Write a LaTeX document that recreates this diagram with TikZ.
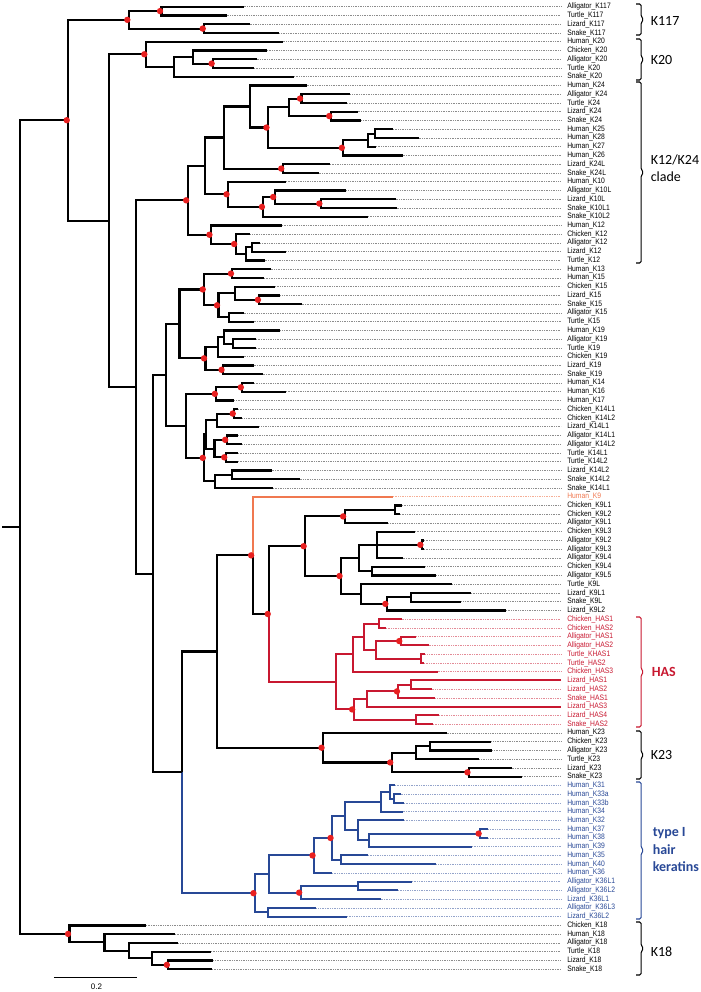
\documentclass[tikz,border=0pt]{standalone}
\usepackage{fontspec}
\setmainfont{Liberation Sans}
\newfontfamily\lblfont[FakeStretch=0.86]{Liberation Sans}
\newfontfamily\brkfont{Carlito}
\usetikzlibrary{calc}
\definecolor{korange}{RGB}{240,120,80}
\definecolor{kred}{RGB}{200,24,48}
\definecolor{kblue}{RGB}{40,72,150}
\definecolor{kdot}{RGB}{232,32,32}
\colorlet{labk}{black}
\colorlet{labo}{korange}
\colorlet{labr}{kred}
\colorlet{labb}{kblue}
\tikzset{
 br/.style={line width=1.6pt, black},
 brr/.style={line width=1.5pt, kred},
 brb/.style={line width=1.5pt, kblue},
 bro/.style={line width=1.4pt, korange},
 lab/.style={anchor=west, inner sep=0pt, font=\lblfont\fontsize{5.9}{6}\selectfont},
 leadbase/.style={line width=0.45pt, dash pattern=on 0.5pt off 0.8pt, shorten >=4.5pt},
 leadk/.style={leadbase, black!45},
 leado/.style={leadbase, korange!60},
 leadr/.style={leadbase, kred!50},
 leadb/.style={leadbase, kblue!50},
 bkline/.style={line width=0.8pt, rounded corners=1.2pt},
 blab/.style={anchor=west, inner sep=0pt, font=\brkfont\fontsize{10.5}{12}\selectfont},
 dotn/.style={fill=kdot},
}
\newcommand\tn[5][br]{%
  \coordinate (#2m) at ($(#4)!.5!(#5)$);
  \coordinate (#2) at (#3,0 |- #2m);
  \draw[#1] (#4) -| (#2) |- (#5);}
\newcommand\tnc[6]{%
  \coordinate (#1m) at ($(#3)!.5!(#4)$);
  \coordinate (#1) at (#2,0 |- #1m);
  \draw[#5] (#1) |- (#3);
  \draw[#6] (#1) |- (#4);}
\newcommand\bkt[4]{%
  \coordinate (#1a) at (636,#2);
  \coordinate (#1b) at (636,#3);
  \coordinate (#1m) at ($(#1a)!.5!(#1b)$);
  \draw[bkline,#4] (#1a) -- ([xshift=3.9pt]#1a) -- ([xshift=3.9pt,yshift=1.9pt]#1m)
     -- ([xshift=5.9pt]#1m) -- ([xshift=3.9pt,yshift=-1.9pt]#1m) -- ([xshift=3.9pt]#1b) -- (#1b);}
\begin{document}
\begin{tikzpicture}[x=0.75pt,y=-0.75pt]
\useasboundingbox (0,0) rectangle (700,992);
% leaves
\foreach \i/\t/\s/\c in {
1/243.6/Alligator\_K117/k, 2/226.6/Turtle\_K117/k, 3/249.5/Lizard\_K117/k, 4/279.1/Snake\_K117/k,
5/282.7/Human\_K20/k, 6/267.0/Chicken\_K20/k, 7/256.7/Alligator\_K20/k, 8/254.0/Turtle\_K20/k, 9/293.9/Snake\_K20/k,
10/306.5/Human\_K24/k, 11/350.4/Alligator\_K24/k, 12/346.8/Turtle\_K24/k, 13/357.6/Lizard\_K24/k, 14/361.2/Snake\_K24/k,
15/393.0/Human\_K25/k, 16/418.6/Human\_K28/k, 17/376.0/Human\_K27/k, 18/402.5/Human\_K26/k,
19/329.8/Lizard\_K24L/k, 20/318.6/Snake\_K24L/k, 21/285.8/Human\_K10/k, 22/346.4/Alligator\_K10L/k,
23/395.7/Lizard\_K10L/k, 24/396.6/Snake\_K10L1/k, 25/368.0/Snake\_K10L2/k,
26/281.8/Human\_K12/k, 27/250.4/Chicken\_K12/k, 28/260.2/Alligator\_K12/k, 29/286.3/Lizard\_K12/k, 30/264.7/Turtle\_K12/k,
31/270.6/Human\_K13/k, 32/263.8/Human\_K15/k, 33/275.0/Chicken\_K15/k, 34/280.4/Lizard\_K15/k, 35/301.5/Snake\_K15/k,
36/243.6/Alligator\_K15/k, 37/253.5/Turtle\_K15/k,
38/280.4/Human\_K19/k, 39/255.8/Alligator\_K19/k, 40/255.8/Turtle\_K19/k, 41/243.6/Chicken\_K19/k, 42/253.5/Lizard\_K19/k, 43/262.5/Snake\_K19/k,
44/254.0/Human\_K14/k, 45/285.8/Human\_K16/k, 46/234.2/Human\_K17/k,
47/237.8/Chicken\_K14L1/k, 48/242.3/Chicken\_K14L2/k, 49/259.4/Lizard\_K14L1/k, 50/237.8/Alligator\_K14L1/k,
51/242.3/Alligator\_K14L2/k, 52/237.8/Turtle\_K14L1/k, 53/237.8/Turtle\_K14L2/k, 54/271.5/Lizard\_K14L2/k,
55/299.7/Snake\_K14L2/k, 56/272.8/Snake\_K14L1/k,
57/393.0/Human\_K9/o,
58/402.0/Chicken\_K9L1/k, 59/400.0/Chicken\_K9L2/k, 60/388.1/Alligator\_K9L1/k, 61/415.0/Chicken\_K9L3/k,
62/424.0/Alligator\_K9L2/k, 63/424.0/Alligator\_K9L3/k, 64/402.5/Alligator\_K9L4/k, 65/425.4/Chicken\_K9L4/k,
66/436.1/Alligator\_K9L5/k, 67/452.3/Turtle\_K9L/k, 68/471.0/Lizard\_K9L1/k, 69/461.3/Snake\_K9L/k, 70/506.0/Lizard\_K9L2/k,
71/401.6/Chicken\_HAS1/r, 72/385.9/Chicken\_HAS2/r, 73/416.4/Alligator\_HAS1/r, 74/428.5/Alligator\_HAS2/r,
75/425.4/Turtle\_KHAS1/r, 76/424.0/Turtle\_HAS2/r, 77/437.5/Chicken\_HAS3/r, 78/561.0/Lizard\_HAS1/r,
79/431.6/Lizard\_HAS2/r, 80/435.2/Snake\_HAS1/r, 81/561.0/Lizard\_HAS3/r, 82/438.8/Lizard\_HAS4/r, 83/433.0/Snake\_HAS2/r,
84/446.5/Human\_K23/k, 85/491.3/Chicken\_K23/k, 86/492.2/Alligator\_K23/k, 87/479.2/Turtle\_K23/k, 88/511.5/Lizard\_K23/k, 89/521.8/Snake\_K23/k,
90/394.9/Human\_K31/b, 91/400.7/Human\_K33a/b, 92/403.8/Human\_K33b/b, 93/402.5/Human\_K34/b, 94/403.8/Human\_K32/b,
95/488.2/Human\_K37/b, 96/488.2/Human\_K38/b, 97/472.0/Human\_K39/b, 98/368.0/Human\_K35/b, 99/436.1/Human\_K40/b,
100/332.0/Human\_K36/b, 101/412.0/Alligator\_K36L1/b, 102/398.0/Alligator\_K36L2/b, 103/380.5/Lizard\_K36L1/b,
104/316.3/Alligator\_K36L3/b, 105/346.9/Lizard\_K36L2/b,
106/145.8/Chicken\_K18/k, 107/175.0/Human\_K18/k, 108/178.1/Alligator\_K18/k, 109/210.9/Turtle\_K18/k,
110/213.1/Lizard\_K18/k, 111/211.8/Snake\_K18/k}{
  \pgfmathsetmacro\yy{6.7+(\i-1)*8.75}
  \coordinate (L\i) at (\t,\yy);
  \node[lab,text=lab\c] (T\i) at (567,\yy) {\s};
  \draw[lead\c] (L\i) -- (T\i.west);
}
% K117
\tn{n117a}{161.5}{L1}{L2}
\tn{n117b}{204.2}{L3}{L4}
\tn{K117}{128.8}{n117a}{n117b}
% K20
\tn{F}{213.1}{L7}{L8}
\tn{E}{193.0}{L6}{F}
\tn{D}{174.1}{E}{L9}
\tn{K20}{145.8}{L5}{D}
% K24 / K12
\tn{AT24}{301.5}{L11}{L12}
\tn{LS24}{330.7}{L13}{L14}
\tn{I}{289.4}{AT24}{LS24}
\tn{L}{375.1}{L15}{L16}
\tn{K}{368.0}{L}{L17}
\tn{J}{343.3}{K}{L18}
\tn{H}{267.9}{I}{J}
\tn{G}{250.4}{L10}{H}
\tn{N}{282.7}{L19}{L20}
\tn{M}{224.4}{G}{N}
\tn{AP}{320.8}{L23}{L24}
\tn{AO}{274.6}{L22}{AP}
\tn{AN}{263.4}{AO}{L25}
\tn{P}{228.0}{L21}{AN}
\tn{O}{205.0}{M}{P}
\tn{AM}{252.2}{L28}{L29}
\tn{AL}{245.9}{AM}{L30}
\tn{AK}{235.6}{L27}{AL}
\tn{R}{210.9}{L26}{AK}
\tn{Q}{187.6}{O}{R}
% K13/K15/K19
\tn{P1315}{232.4}{L31}{L32}
\tn{Z1b}{259.4}{L34}{L35}
\tn{Z1}{234.7}{L33}{Z1b}
\tn{Z2}{228.8}{L36}{L37}
\tn{Z}{218.5}{Z1}{Z2}
\tn{Y}{204.2}{P1315}{Z}
\tn{AD}{233.3}{L39}{L40}
\tn{AC}{224.4}{L38}{AD}
\tn{AA}{217.6}{AC}{L41}
\tn{AB}{223.0}{L42}{L43}
\tn{K19}{205.5}{AA}{AB}
\tn{U}{179.5}{Y}{K19}
% K14
\tn{AE}{242.3}{L44}{L45}
\tn{K1417}{216.3}{AE}{L46}
\tn{CP14}{234.2}{L47}{L48}
\tn{AF}{216.7}{CP14}{L49}
\tn{AP14}{226.6}{L50}{L51}
\tn{TP14}{225.7}{L52}{L53}
\tn{AG}{214.5}{AP14}{TP14}
\tn{AH}{206.4}{AF}{AG}
\tn{AJ}{232.4}{L54}{L55}
\tn{AI}{215.4}{AJ}{L56}
\tn{K14L}{204.2}{AH}{AI}
\tn{W}{186.2}{K1417}{K14L}
\tn{V}{166.0}{U}{W}
% K9
\tn{AV}{394.9}{L58}{L59}
\tn{AT9}{344.6}{AV}{L60}
\tn{AY}{421.8}{L62}{L63}
\coordinate (AXm) at ($(L61)!.5!(L64)$);
\coordinate (AX) at (376.9,0 |- AXm);
\draw[br] (L61) -| (AX) |- (L64);
\draw[br] (AX |- AY) -- (AY);
\tn{AZ}{372.4}{L65}{L66}
\tn{BA}{359.0}{AX}{AZ}
\tn{BE}{410.6}{L68}{L69}
\tn{BD}{386.8}{BE}{L70}
\tn{BC}{361.2}{L67}{BD}
\tn{AU}{341.0}{BA}{BC}
\tn{AS}{305.1}{AT9}{AU}
% HAS
\tn[brr]{BH}{379.2}{L71}{L72}
\tn[brr]{BJ}{400.7}{L73}{L74}
\tn[brr]{BK}{420.9}{L75}{L76}
\tn[brr]{BI}{376.0}{BJ}{BK}
\tn[brr]{BG}{364.3}{BH}{BI}
\tn[brr]{BF}{353.0}{BG}{L77}
\tn[brr]{BP}{410.6}{L78}{L79}
\tn[brr]{BO}{398.4}{BP}{L80}
\tn[brr]{BM}{367.0}{BO}{L81}
\tn[brr]{BN}{416.4}{L82}{L83}
\tn[brr]{BL}{353.6}{BM}{BN}
\tn[brr]{HAS}{335.6}{BF}{BL}
\tnc{AR}{269.2}{AS}{HAS}{br}{brr}
\tnc{AQ}{252.6}{L57}{AR}{bro}{br}
% K23
\tn{BT}{429.9}{L85}{L86}
\tn{BR}{416.4}{BT}{L87}
\tn{BS}{468.9}{L88}{L89}
\tn{BQ}{391.7}{BR}{BS}
\tn{K23}{323.0}{L84}{BQ}
\tn{BU}{216.7}{AQ}{K23}
% hair keratins
\tn[brb]{CA}{394.0}{L91}{L92}
\tn[brb]{CB}{390.4}{L90}{CA}
\tn[brb]{CC}{381.4}{CB}{L93}
\tn[brb]{CG}{480.1}{L95}{L96}
\tn[brb]{CF}{368.8}{CG}{L97}
\tn[brb]{CE}{357.6}{L94}{CF}
\tn[brb]{CD}{344.6}{CC}{CE}
\tn[brb]{CI}{341.0}{L98}{L99}
\tn[brb]{CH}{332.0}{CD}{CI}
\tn[brb]{CJ}{314.0}{CH}{L100}
\tn[brb]{CM}{358.0}{L101}{L102}
\tn[brb]{CL}{300.6}{CM}{L103}
\tn[brb]{CK}{269.2}{CJ}{CL}
\tn[brb]{CN}{268.3}{L104}{L105}
\tn[brb]{HK}{254.9}{CK}{CN}
\tnc{X}{181.7}{BU}{HK}{br}{brb}
\tn{T}{152.6}{V}{X}
\tn{C}{136.0}{Q}{T}
\tn{B}{109.0}{K20}{C}
\tn{A}{68.2}{K117}{B}
% K18
\tn{CR}{168.3}{L110}{L111}
\tn{CQ}{151.7}{L109}{CR}
\tn{CP}{129.2}{L108}{CQ}
\tn{CO}{104.5}{L107}{CP}
\tn{K18}{69.5}{L106}{CO}
\tn{root}{20.2}{A}{K18}
\coordinate (rootstub) at (2,0 |- root);
\draw[br] (rootstub) -- (root);
% support dots
\foreach \n in {A,K117,n117a,n117b,K20,F,H,AT24,LS24,J,N,P,AO,AN,AP,Q,R,AK,P1315,Y,Z,Z1b,K19,AB,AE,K1417,CP14,AP14,TP14,K14L,AQ,AT9,AS,AY,AU,BD,AR,BJ,BO,BL,K23,BQ,BS,CG,CH,CJ,HK,CL,K18,CR}
  \fill[dotn] ([xshift=-1.1pt]\n) circle (2.4pt);
% brackets
\bkt{b1}{4}{35}{black}
\bkt{b2}{39}{80}{black}
\bkt{b3}{82}{263}{black}
\bkt{b4}{617}{727}{kred}
\bkt{b5}{731}{779}{black}
\bkt{b6}{782}{919}{kblue}
\bkt{b7}{922}{975}{black}
\node[blab] (cK117) at (650.5,20.5) {K117};
\node[blab] (cK20) at (650.5,60.5) {K20};
\node[blab] (cK12a) at (650.5,160) {K12/K24};
\node[blab] (cK12b) at (650.5,177) {clade};
\node[blab,text=kred,font=\brkfont\bfseries\fontsize{10.5}{12}\selectfont] (cHAS) at (651.5,672) {HAS};
\node[blab] (cK23) at (650.5,755) {K23};
\node[blab,text=kblue,font=\brkfont\bfseries\fontsize{10.5}{12}\selectfont] (cH1) at (652.5,833.5) {type I};
\node[blab,text=kblue,font=\brkfont\bfseries\fontsize{10.5}{12}\selectfont] (cH2) at (652.5,850) {hair};
\node[blab,text=kblue,font=\brkfont\bfseries\fontsize{10.5}{12}\selectfont] (cH3) at (652.5,866.5) {keratins};
\node[blab] (cK18) at (650.5,952) {K18};
% scale bar
\coordinate (sb1) at (53.8,977.3);
\coordinate (sb2) at (136.9,977.3);
\draw[line width=0.6pt] (sb1) -- (sb2);
\node[inner sep=0pt,font=\fontsize{6}{7}\selectfont] (sbl) at (96.5,986.5) {0.2};
\end{tikzpicture}
\end{document}
